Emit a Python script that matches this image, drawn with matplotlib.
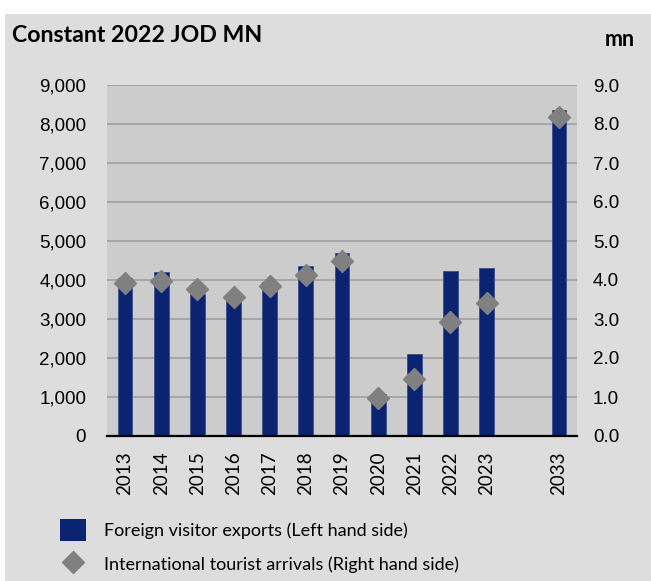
import numpy as np
import matplotlib
matplotlib.use("Agg")
from matplotlib import pyplot as plt
from matplotlib.patches import Patch, Rectangle
from matplotlib.lines import Line2D

# data
years = ['2013', '2014', '2015', '2016', '2017', '2018', '2019',
         '2020', '2021', '2022', '2023', '', '2033']
exports = [4040, 4200, 3630, 3550, 3960, 4370, 4700,
           1080, 2100, 4220, 4300, np.nan, 8350]   # JOD mn, left axis
arrivals = [3.93, 3.98, 3.76, 3.56, 3.84, 4.14, 4.48,
            0.97, 1.47, 2.92, 3.41, np.nan, 8.18]  # mn, right axis

bar_color = '#0b2472'
diamond_color = '#808080'
label_font = ['Lato', 'DejaVu Sans']
tick_font = ['Liberation Sans', 'DejaVu Sans']

fig = plt.figure(figsize=(6.51, 5.81), dpi=100)
fig.patch.set_facecolor('white')
# grey panel with a thin white margin on top and left
fig.patches.append(Rectangle((5/651, 0), 1, 1 - 14/581, transform=fig.transFigure,
                             facecolor='#dddddd', edgecolor='none', zorder=-10))

ax = fig.add_axes([107/651, 1 - 436/581, 470/651, 351/581])
ax.set_facecolor('#cccccc')
x = np.arange(len(years))
ax.bar(x, exports, width=0.41, color=bar_color, edgecolor='#3a4f8f', linewidth=0.6, zorder=2)
ax.set_xlim(-0.5, len(years) - 0.5)
ax.set_ylim(0, 9000)
ax.set_yticks(np.arange(0, 9001, 1000))
ax.set_yticklabels([f'{v:,}' for v in range(0, 9001, 1000)], fontsize=13.5, family=tick_font)
ax.yaxis.grid(True, color='#a0a0a0', linewidth=1.2)
ax.set_axisbelow(True)
ax.set_xticks(x)
ax.set_xticklabels(years, rotation=90, fontsize=13.5, family=label_font)
ax.tick_params(axis='both', length=0)
ax.tick_params(axis='y', pad=15)
ax.tick_params(axis='x', pad=11)
for s in ['left', 'right', 'top']:
    ax.spines[s].set_visible(False)
ax.spines['bottom'].set_color('black')
ax.spines['bottom'].set_linewidth(1.6)
ax.spines['bottom'].set_zorder(5)

ax2 = ax.twinx()
ax2.plot(x, arrivals, linestyle='none', marker='D', markersize=11,
         color=diamond_color, zorder=3)
ax2.set_ylim(0, 9.0)
ax2.set_yticks(np.arange(0, 9.01, 1.0))
ax2.set_yticklabels([f'{v:.1f}' for v in np.arange(0, 9.01, 1.0)], fontsize=13.5, family=tick_font)
ax2.tick_params(axis='y', length=0, pad=11.5)
for s in ['left', 'right', 'top', 'bottom']:
    ax2.spines[s].set_visible(False)

fig.text(12/651, 1 - 36/581, 'Constant 2022 JOD MN', fontsize=16.7, fontweight='bold',
         family=label_font, va='center', ha='left')
fig.text(635/651, 1 - 40/581, 'mn', fontsize=15.5, fontweight='bold',
         family=label_font, va='center', ha='right')

handles = [Patch(facecolor=bar_color, edgecolor='none'),
           Line2D([], [], linestyle='none', marker='D', markersize=11, color=diamond_color)]
labels = ['Foreign visitor exports (Left hand side)',
          'International tourist arrivals (Right hand side)']
fig.legend(handles, labels, loc='upper left', bbox_to_anchor=(44/651, 1 - 503/581),
           frameon=False, prop={'family': label_font, 'size': 13},
           handlelength=1.45, handleheight=1.45, handletextpad=0.95, labelspacing=0.7)

fig.savefig('out.png', dpi=100)
